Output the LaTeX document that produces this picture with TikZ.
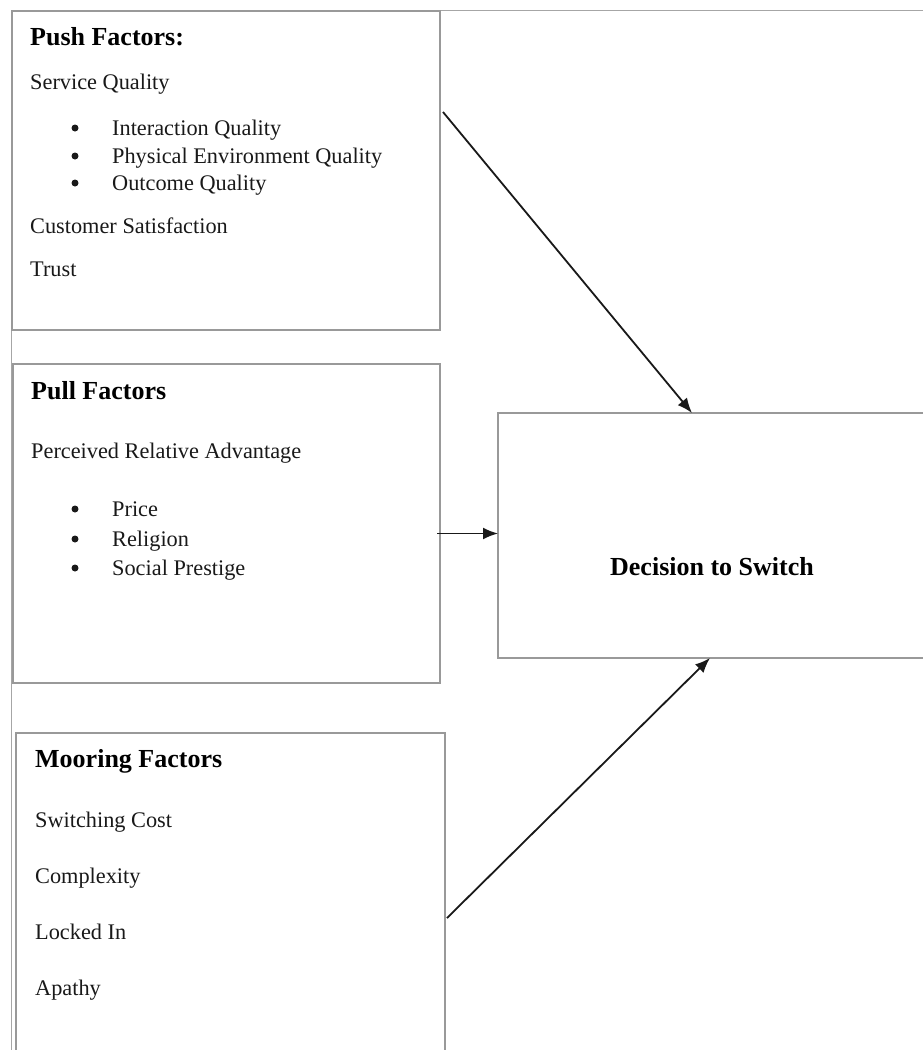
\documentclass[tikz,border=0pt]{standalone}
\usepackage{fontspec}
\setmainfont{Liberation Serif}
\usetikzlibrary{arrows.meta,calc}
\tikzset{
  frame/.style={draw=black!35, line width=1.3pt},
  box/.style={draw=black!40, line width=1.3pt, rectangle, inner sep=0pt, outer sep=0pt},
  txt/.style={anchor=base west, inner sep=0pt, text=black!90, font=\fontsize{22.3}{26}\selectfont},
  head/.style={anchor=base west, inner sep=0pt, font=\fontsize{26}{30}\selectfont\bfseries},
  dot/.style={circle, fill=black!90, draw=none, minimum size=7pt, inner sep=0pt},
  arr/.style={draw=black!90, line width=1.8pt, -{Latex[length=15pt,width=12pt]}}
}
\begin{document}
\begin{tikzpicture}[x=1pt,y=-1pt]
\clip (0,0) rectangle (923,1050);
\useasboundingbox (0,0) rectangle (923,1050);
\fill[white] (0,0) rectangle (923,1050);
% outer page frame
\coordinate (fTR) at (930,10.5);
\coordinate (fTL) at (11.5,10.5);
\coordinate (fBL) at (11.5,1060);
\draw[frame] (fTR) -- (fTL) -- (fBL);
% boxes
\node[box, minimum width=428pt, minimum height=319pt] (push) at (226,170.5) {};
\node[box, minimum width=427pt, minimum height=319pt] (pull) at (226.5,523.5) {};
\node[box, minimum width=429pt, minimum height=340pt] (moor) at (230.5,903) {};
\node[box, minimum width=432pt, minimum height=245pt] (dec) at (714,535.5) {};
% push text
\node[head] (pushh) at (30,45) {Push Factors:};
\node[txt] (sq) at (30,89) {Service Quality};
\node[dot] (b1) at (75,128) {};
\node[txt] (iq) at (112,135) {Interaction Quality};
\node[dot] (b2) at (75,156) {};
\node[txt] (pe) at (112,163) {Physical Environment Quality};
\node[dot] (b3) at (75,183) {};
\node[txt] (oq) at (112,190) {Outcome Quality};
\node[txt] (cs) at (30,233) {Customer Satisfaction};
\node[txt] (tr) at (30,276) {Trust};
% pull text
\node[head] (pullh) at (31,399) {Pull Factors};
\node[txt] (pra) at (31,458) {Perceived Relative Advantage};
\node[dot] (b4) at (75,509) {};
\node[txt] (pr) at (112,516) {Price};
\node[dot] (b5) at (75,539) {};
\node[txt] (re) at (112,546) {Religion};
\node[dot] (b6) at (75,568) {};
\node[txt] (sp) at (112,575) {Social Prestige};
% mooring text
\node[head] (moorh) at (35,767) {Mooring Factors};
\node[txt] (sc) at (35,827) {Switching Cost};
\node[txt] (cx) at (35,883) {Complexity};
\node[txt] (li) at (35,939) {Locked In};
\node[txt] (ap) at (35,995) {Apathy};
% decision text
\node[head, anchor=base] (dech) at (712,575) {Decision to Switch};
% arrows
\coordinate (pushout) at ([shift={(3,101)}]push.north east);
\coordinate (pullout) at ([shift={(-3,10)}]pull.east);
\coordinate (moorout) at ([shift={(2,185)}]moor.north east);
\draw[arr] (pushout) -- ([xshift=194pt]dec.north west);
\draw[arr] (pullout) -- (dec.west |- pullout);
\draw[arr] (moorout) -- ([xshift=212pt]dec.south west);
\end{tikzpicture}
\end{document}
